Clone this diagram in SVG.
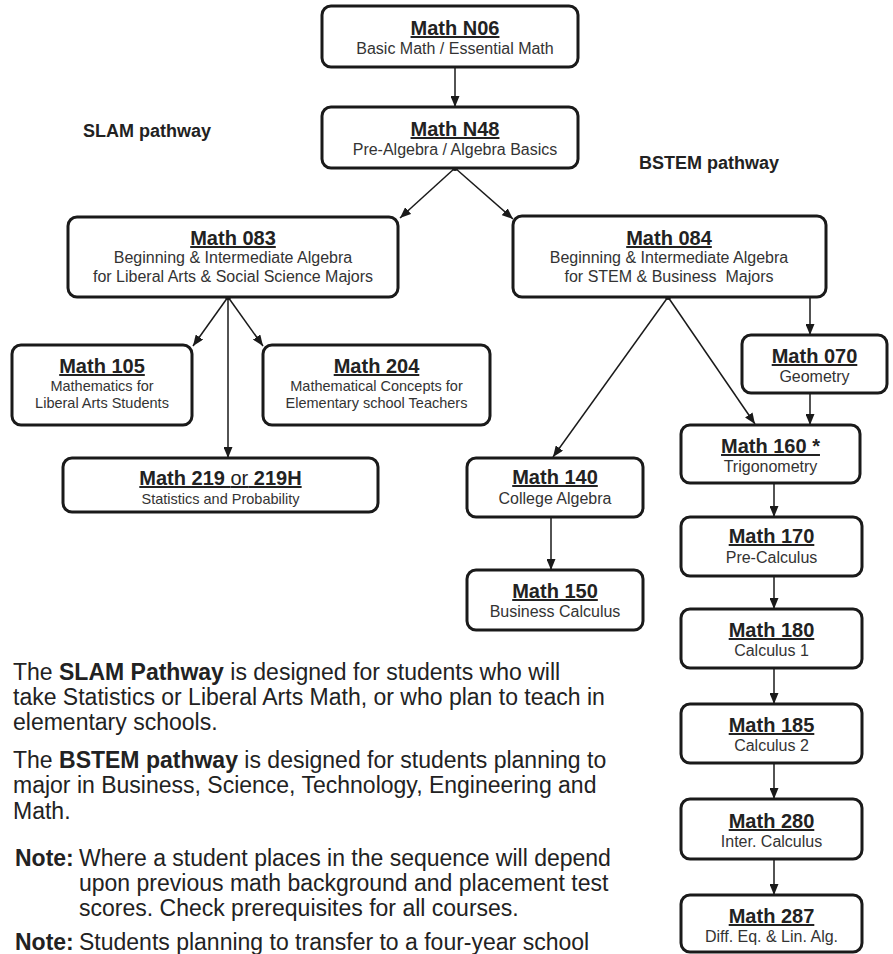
<svg xmlns="http://www.w3.org/2000/svg" width="893" height="954" viewBox="0 0 893 954">
<style>
.box{fill:#fff;stroke:#1a1a1a;stroke-width:3}
.t{font-family:"Liberation Sans",Arial,sans-serif;font-weight:bold;font-size:20px;fill:#222;text-anchor:middle;text-decoration:underline}
.s{font-family:"Liberation Sans",Arial,sans-serif;font-size:16px;fill:#333;text-anchor:middle;white-space:pre}
.ss{font-size:14.5px}
.c{stroke:#1a1a1a;stroke-width:1.5;fill:none;marker-end:url(#ah)}
.p{font-family:"Liberation Sans",Arial,sans-serif;font-size:23px;fill:#222}
.b{font-weight:bold}
.lab{font-family:"Liberation Sans",Arial,sans-serif;font-size:18px;font-weight:bold;fill:#222}
</style>
<defs>
<marker id="ah" markerUnits="userSpaceOnUse" markerWidth="11" markerHeight="9" refX="11" refY="4.5" orient="auto">
<path d="M0,0 L11,4.5 L0,9 z" fill="#1a1a1a"/>
</marker>
</defs>

<text class="lab" x="83" y="137">SLAM pathway</text>
<text class="lab" x="639" y="169">BSTEM pathway</text>

<g id="connectors">
<line class="c" x1="455" y1="67" x2="455" y2="107"/>
<line class="c" x1="455" y1="168" x2="400" y2="218"/>
<line class="c" x1="455" y1="168" x2="513" y2="219"/>
<line class="c" x1="228" y1="297" x2="193" y2="346"/>
<line class="c" x1="228" y1="297" x2="263" y2="346"/>
<line class="c" x1="228" y1="297" x2="228" y2="458"/>
<line class="c" x1="668" y1="297" x2="553" y2="457"/>
<line class="c" x1="668" y1="297" x2="755" y2="424"/>
<line class="c" x1="810" y1="297" x2="810" y2="335"/>
<line class="c" x1="810" y1="393" x2="810" y2="425"/>
<line class="c" x1="551" y1="517" x2="551" y2="570"/>
<line class="c" x1="774" y1="483" x2="774" y2="517"/>
<line class="c" x1="774" y1="576" x2="774" y2="609"/>
<line class="c" x1="774" y1="668" x2="774" y2="704"/>
<line class="c" x1="774" y1="763" x2="774" y2="799"/>
<line class="c" x1="774" y1="859" x2="774" y2="895"/>
<circle cx="455" cy="168" r="3" fill="#1a1a1a"/>
<circle cx="228" cy="297" r="3" fill="#1a1a1a"/>
<circle cx="668" cy="297" r="3" fill="#1a1a1a"/>
</g>

<g id="n06">
<rect class="box" x="322" y="6" width="256" height="61" rx="9"/>
<text class="t" x="455" y="35">Math N06</text>
<text class="s" x="455" y="54">Basic Math / Essential Math</text>
</g>
<g id="n48">
<rect class="box" x="322" y="107" width="256" height="61" rx="9"/>
<text class="t" x="455" y="136">Math N48</text>
<text class="s" x="455" y="155">Pre-Algebra / Algebra Basics</text>
</g>
<g id="m083">
<rect class="box" x="68" y="217" width="330" height="80" rx="9"/>
<text class="t" x="233" y="245">Math 083</text>
<text class="s" x="233" y="263">Beginning &amp; Intermediate Algebra</text>
<text class="s" x="233" y="282">for Liberal Arts &amp; Social Science Majors</text>
</g>
<g id="m084">
<rect class="box" x="513" y="216" width="313" height="81" rx="9"/>
<text class="t" x="669" y="245">Math 084</text>
<text class="s" x="669" y="263">Beginning &amp; Intermediate Algebra</text>
<text class="s" x="669" y="282">for STEM &amp; Business  Majors</text>
</g>
<g id="m105">
<rect class="box" x="12" y="345" width="180" height="80" rx="9"/>
<text class="t" x="102" y="373">Math 105</text>
<text class="s ss" x="102" y="391">Mathematics for</text>
<text class="s ss" x="102" y="408">Liberal Arts Students</text>
</g>
<g id="m204">
<rect class="box" x="263" y="345" width="227" height="80" rx="9"/>
<text class="t" x="376.5" y="373">Math 204</text>
<text class="s ss" x="376.5" y="391">Mathematical Concepts for</text>
<text class="s ss" x="376.5" y="408">Elementary school Teachers</text>
</g>
<g id="m219">
<rect class="box" x="63" y="458" width="315" height="54" rx="9"/>
<text class="t" x="220.5" y="485">Math 219 <tspan font-weight="normal">or</tspan> 219H</text>
<text class="s ss" x="220.5" y="504">Statistics and Probability</text>
</g>
<g id="m070">
<rect class="box" x="742" y="335" width="145" height="58" rx="9"/>
<text class="t" x="814.5" y="363">Math 070</text>
<text class="s" x="814.5" y="382">Geometry</text>
</g>
<g id="m160">
<rect class="box" x="681" y="425" width="179" height="58" rx="9"/>
<text class="t" x="770.5" y="453">Math 160 *</text>
<text class="s" x="770.5" y="472">Trigonometry</text>
</g>
<g id="m140">
<rect class="box" x="467" y="458" width="176" height="59" rx="9"/>
<text class="t" x="555" y="484">Math 140</text>
<text class="s" x="555" y="504">College Algebra</text>
</g>
<g id="m150">
<rect class="box" x="467" y="570" width="176" height="60" rx="9"/>
<text class="t" x="555" y="598">Math 150</text>
<text class="s" x="555" y="617">Business Calculus</text>
</g>
<g id="m170">
<rect class="box" x="681" y="517" width="181" height="59" rx="9"/>
<text class="t" x="771.5" y="543">Math 170</text>
<text class="s" x="771.5" y="563">Pre-Calculus</text>
</g>
<g id="m180">
<rect class="box" x="681" y="609" width="181" height="59" rx="9"/>
<text class="t" x="771.5" y="637">Math 180</text>
<text class="s" x="771.5" y="656">Calculus 1</text>
</g>
<g id="m185">
<rect class="box" x="681" y="704" width="181" height="59" rx="9"/>
<text class="t" x="771.5" y="732">Math 185</text>
<text class="s" x="771.5" y="751">Calculus 2</text>
</g>
<g id="m280">
<rect class="box" x="681" y="799" width="181" height="60" rx="9"/>
<text class="t" x="771.5" y="828">Math 280</text>
<text class="s" x="771.5" y="847">Inter. Calculus</text>
</g>
<g id="m287">
<rect class="box" x="681" y="895" width="181" height="57" rx="9"/>
<text class="t" x="771.5" y="923">Math 287</text>
<text class="s" x="771.5" y="942">Diff. Eq. &amp; Lin. Alg.</text>
</g>

<g id="notes">
<text class="p" x="13" y="680">The <tspan class="b">SLAM Pathway</tspan> is designed for students who will</text>
<text class="p" x="13" y="705">take Statistics or Liberal Arts Math, or who plan to teach in</text>
<text class="p" x="13" y="730">elementary schools.</text>
<text class="p" x="13" y="768">The <tspan class="b">BSTEM pathway</tspan> is designed for students planning to</text>
<text class="p" x="13" y="793">major in Business, Science, Technology, Engineering and</text>
<text class="p" x="13" y="819">Math.</text>
<text class="p b" x="15" y="866">Note:</text>
<text class="p" x="79" y="866">Where a student places in the sequence will depend</text>
<text class="p" x="79" y="891">upon previous math background and placement test</text>
<text class="p" x="79" y="916">scores. Check prerequisites for all courses.</text>
<text class="p b" x="15" y="950">Note:</text>
<text class="p" x="79" y="950">Students planning to transfer to a four-year school</text>
</g>
</svg>
